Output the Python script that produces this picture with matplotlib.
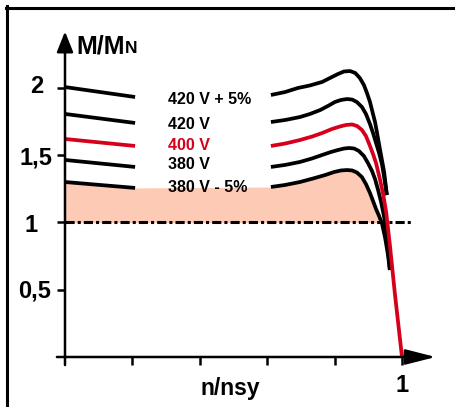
import numpy as np
import matplotlib
matplotlib.use("Agg")
import matplotlib.pyplot as plt
from matplotlib.lines import Line2D

plt.rcParams["font.family"] = ["Liberation Sans", "DejaVu Sans"]
plt.rcParams["font.weight"] = "bold"

# krive M/MN u funkciji n/nsy, ocitano sa slike; levi i desni deo (sredina prazna zbog natpisa)
labels = ["420 V + 5%", "420 V", "400 V", "380 V", "380 V - 5%"]
colors = ["black", "black", "#d6001c", "black", "black"]

left_x = [0.0, 0.208]
left_y = [
    [2.007, 1.933],
    [1.807, 1.740],
    [1.621, 1.569],
    [1.465, 1.413],
    [1.301, 1.257],
]

right_x = [
    [0.611, 0.653, 0.691, 0.727, 0.763, 0.786, 0.810, 0.828, 0.846, 0.861, 0.875, 0.887,
     0.896, 0.905, 0.911, 0.920, 0.926, 0.935, 0.947, 0.955],
    [0.611, 0.653, 0.697, 0.727, 0.757, 0.780, 0.801, 0.819, 0.837, 0.852, 0.866, 0.881,
     0.893, 0.905, 0.914, 0.923, 0.932, 0.941, 0.947, 0.955],
    [0.611, 0.653, 0.697, 0.733, 0.763, 0.792, 0.816, 0.834, 0.852, 0.867, 0.881, 0.893,
     0.905, 0.914, 0.923, 0.935, 0.944, 0.953, 0.964, 0.979, 1.0],
    [0.611, 0.653, 0.697, 0.733, 0.763, 0.789, 0.810, 0.828, 0.843, 0.858, 0.872, 0.887,
     0.899, 0.911, 0.920, 0.929, 0.938, 0.947, 0.956, 0.964],
    [0.611, 0.653, 0.697, 0.736, 0.772, 0.798, 0.819, 0.837, 0.852, 0.866, 0.881, 0.893,
     0.905, 0.914, 0.923, 0.932, 0.941, 0.950, 0.958, 0.964],
]
right_y = [
    [1.948, 1.970, 2.000, 2.019, 2.045, 2.074, 2.104, 2.123, 2.126, 2.112, 2.074, 2.022,
     1.963, 1.896, 1.836, 1.747, 1.665, 1.539, 1.375, 1.204],
    [1.747, 1.762, 1.784, 1.807, 1.836, 1.866, 1.896, 1.911, 1.918, 1.914, 1.896, 1.859,
     1.807, 1.732, 1.665, 1.591, 1.517, 1.428, 1.338, 1.204],
    [1.569, 1.587, 1.613, 1.639, 1.665, 1.695, 1.714, 1.725, 1.729, 1.717, 1.688, 1.643,
     1.569, 1.509, 1.442, 1.316, 1.212, 1.078, 0.833, 0.468, 0.0],
    [1.413, 1.428, 1.450, 1.476, 1.502, 1.524, 1.539, 1.550, 1.554, 1.550, 1.532, 1.494,
     1.442, 1.383, 1.323, 1.242, 1.152, 1.041, 0.870, 0.647],
    [1.264, 1.279, 1.301, 1.327, 1.353, 1.375, 1.387, 1.390, 1.387, 1.372, 1.338, 1.286,
     1.219, 1.160, 1.100, 1.048, 0.989, 0.885, 0.766, 0.647],
]
label_y = [1.911, 1.725, 1.576, 1.428, 1.257]

x_ticks = [0.2, 0.4, 0.6, 0.8, 1.0]
y_ticks = [0.5, 1.0, 1.5, 2.0]
y_ticklabels = ["0,5", "1", "1,5", "2"]
y_label_x = [-0.089, -0.101, -0.0875, -0.085]
y_label_base = [0.446, 0.929, 1.428, 1.963]

W, H = 455, 407
fig = plt.figure(figsize=(W / 100, H / 100), dpi=100)
ax = fig.add_axes([0, 0, 1, 1])
# 1 jedinica po x = 337 px, po y = 134.5 px; ishodiste na (65, 357) px
ax.set_xlim(-65 / 337, (W - 65) / 337)
ax.set_ylim(-(H - 357) / 134.5, 357 / 134.5)
ax.axis("off")

# oblast ispod najnize krive, iznad M/MN = 1
fx = np.array(left_x + right_x[4])
fy = np.array(left_y[4] + right_y[4])
ax.fill_between(fx, 1.0, fy, where=fy >= 1.0, interpolate=True,
                color="#fdcab6", lw=0, zorder=1)

ax.plot([0, 1.03], [1, 1], color="black", lw=2.2, ls=(0, (3, 1, 1, 1)),
        dash_capstyle="butt", zorder=2)

for i in [0, 1, 3, 4, 2]:
    ax.plot(left_x, left_y[i], color=colors[i], lw=2.7, solid_capstyle="butt", zorder=3)
    ax.plot(right_x[i], right_y[i], color=colors[i], lw=2.7,
            solid_capstyle="butt", solid_joinstyle="round", zorder=3 + (i == 2))
    ax.text(0.306, label_y[i], labels[i], color=colors[i], fontsize=11.5,
            fontweight="bold", ha="left", va="center", zorder=5)

# ose sa strelicama
ax.annotate("", xy=(1.10, 0), xytext=(-0.024, 0),
            arrowprops=dict(arrowstyle="-|>,head_length=1.85,head_width=0.47",
                            lw=1.8, color="black", shrinkA=0, shrinkB=0), zorder=6)
ax.annotate("", xy=(0, 2.42), xytext=(0, -0.06),
            arrowprops=dict(arrowstyle="-|>,head_length=1.25,head_width=0.5",
                            lw=1.8, color="black", shrinkA=0, shrinkB=0), zorder=6)
ax.vlines(x_ticks, -0.06, 0, color="black", lw=1.8, zorder=6)
ax.hlines(y_ticks, -0.024, 0, color="black", lw=1.8, zorder=6)

for xl, yb, t in zip(y_label_x, y_label_base, y_ticklabels):
    ax.text(xl, yb, t, fontsize=17, fontweight="bold", ha="center", va="baseline")
ax.text(1.001, -0.260, "1", fontsize=17, fontweight="bold", ha="center", va="baseline")
ax.text(0.49, -0.283, "n/nsy", fontsize=16.5, fontweight="bold", ha="center", va="baseline")

mm = ax.text(0.033, 2.260, "M/M", fontsize=18, fontweight="bold", ha="left", va="baseline")
ax.annotate("N", xy=(1, 0), xycoords=mm, xytext=(0.5, 3.8), textcoords="offset points",
            fontsize=12.5, fontweight="bold", ha="left", va="baseline")

# okvir (samo levo i gore)
fig.add_artist(Line2D([7 / W, 7 / W], [0, 1 - 6 / H], color="black", lw=2.2))
fig.add_artist(Line2D([6 / W, 1], [1 - 7.5 / H, 1 - 7.5 / H], color="black", lw=2.2))

fig.savefig("out.png", dpi=100)
